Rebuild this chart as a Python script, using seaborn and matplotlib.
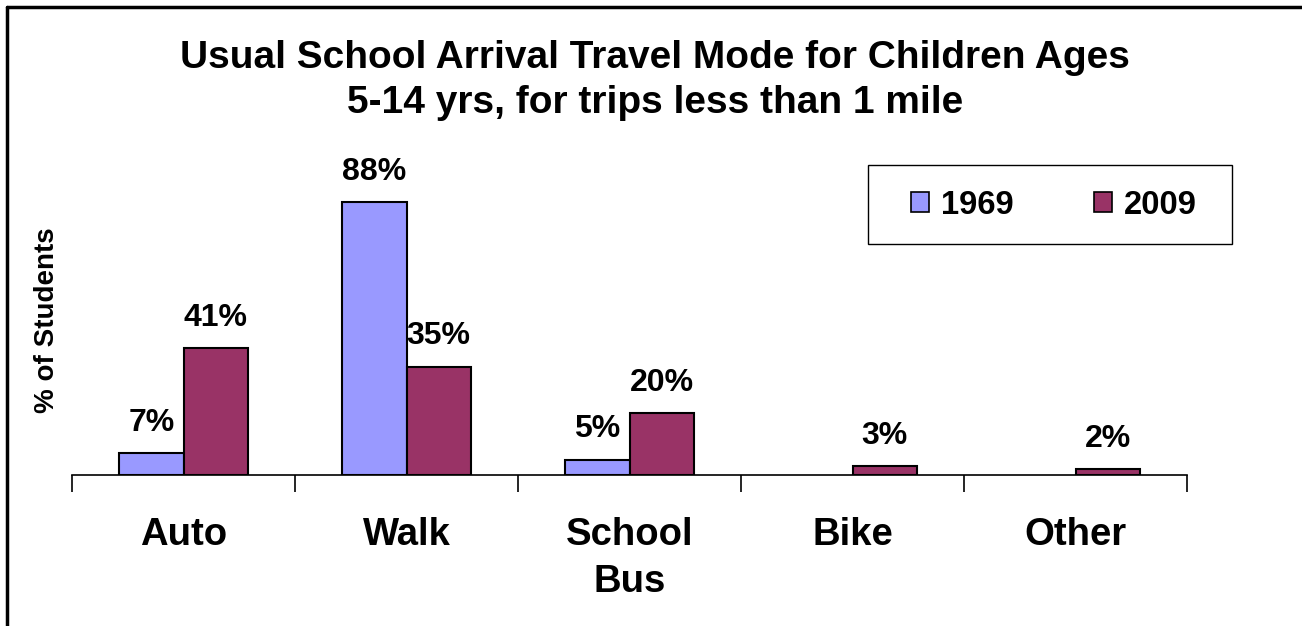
import numpy as np
import pandas as pd
import matplotlib
matplotlib.use('Agg')
import matplotlib.pyplot as plt
import seaborn as sns
from matplotlib.lines import Line2D
from matplotlib.patches import Rectangle

sns.set_style("white")
plt.rcParams['font.family'] = ['Liberation Sans', 'DejaVu Sans']
plt.rcParams['font.weight'] = 'bold'
plt.rcParams['text.color'] = 'black'
plt.rcParams['axes.labelcolor'] = 'black'
plt.rcParams['xtick.color'] = 'black'

modes = ['Auto', 'Walk', 'School\nBus', 'Bike', 'Other']
years = ['1969', '2009']
pct_1969 = [7, 88, 5, np.nan, np.nan]
pct_2009 = [41, 35, 20, 3, 2]
colors = ['#9999FF', '#993366']

df = pd.DataFrame({
    'Mode': modes * 2,
    'Year': [years[0]] * len(modes) + [years[1]] * len(modes),
    'Pct': pct_1969 + pct_2009,
})

fig = plt.figure(figsize=(13.02, 6.26), dpi=100)
ax = fig.add_axes([0.0553, 0.241, 0.8564, 0.495])

sns.barplot(data=df, x='Mode', y='Pct', hue='Year', order=modes, hue_order=years,
            palette=colors, width=0.575, edgecolor='black', linewidth=1.5,
            saturation=1, ax=ax, legend=True)

# etiketler
for cont in ax.containers:
    for bar in cont:
        if bar is None:
            continue
        h = bar.get_height()
        if np.isnan(h):
            continue
        ax.annotate(f'{h:g}%', (bar.get_x() + bar.get_width() / 2, h),
                    xytext=(0, 11), textcoords='offset points', ha='center', va='bottom',
                    fontsize=23, fontweight='bold', color='black')

ax.set_ylim(0, 100)
ax.set_xlim(-0.5, len(modes) - 0.5)
ax.set_yticks([])
ax.set_xticks(np.arange(len(modes)))
ax.set_xticklabels(modes, fontsize=27.5, fontweight='bold', linespacing=1.4)
ax.tick_params(axis='x', which='major', length=0, pad=30)
# kategori sınırlarında aşağı doğru tikler
ax.set_xticks(np.arange(len(modes) + 1) - 0.5, minor=True)
ax.tick_params(axis='x', which='minor', bottom=True, direction='out', length=12, width=1.2, color='black')
for side in ['top', 'right', 'left']:
    ax.spines[side].set_visible(False)
ax.spines['bottom'].set_color('black')
ax.spines['bottom'].set_linewidth(1.2)
ax.set_xlabel('')
ax.set_ylabel('% of Students', fontsize=20, fontweight='bold', labelpad=8.5)

leg = ax.legend(loc='center', bbox_to_anchor=(0.8096, 0.6725), bbox_transform=fig.transFigure,
                ncol=2, frameon=False, handlelength=0.55, handleheight=0.55, handletextpad=0.37,
                columnspacing=2.45, borderpad=0.3, prop={'weight': 'bold', 'size': 23.6})
for h in leg.legend_handles:
    h.set_edgecolor('black')
    h.set_linewidth(1.2)
# lejant çerçevesi
fig.add_artist(Rectangle((0.6667, 0.6102), 0.2796, 0.1262, transform=fig.transFigure,
                         fill=False, edgecolor='black', linewidth=1.0))

fig.text(0.503, 0.871, 'Usual School Arrival Travel Mode for Children Ages\n5-14 yrs, for trips less than 1 mile',
         ha='center', va='center', fontsize=28, fontweight='bold', linespacing=1.32)

# çerçeve (sol ve üst)
fig.add_artist(Line2D([0.005, 0.005], [0, 0.989], transform=fig.transFigure, color='black', lw=2.5))
fig.add_artist(Line2D([0.005, 1.0], [0.989, 0.989], transform=fig.transFigure, color='black', lw=2.5))

plt.savefig('out.png', dpi=100)
plt.close()
